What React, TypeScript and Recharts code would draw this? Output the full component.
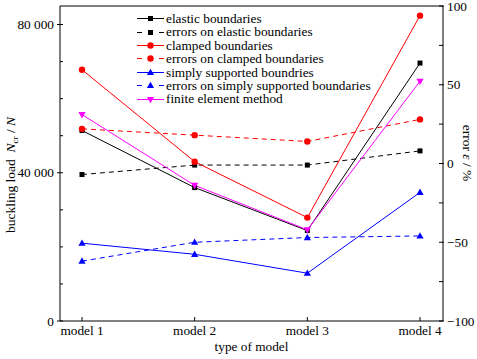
import { LineChart, Line, XAxis, YAxis, Legend } from 'recharts';

// ---- data ----
const MODELS = ['model 1', 'model 2', 'model 3', 'model 4'];

// buckling load N_cr / N (left axis)
const ELASTIC = [51400, 36000, 24400, 69600];
const CLAMPED = [67800, 43000, 27900, 82400];
const SIMPLY = [21000, 18000, 12900, 34700];
const FEM = [55700, 36600, 24600, 64700];

// error in % (right axis)
const ERR_ELASTIC = [-7, -1, -1, 8];
const ERR_CLAMPED = [22, 18, 14, 28];
const ERR_SIMPLY = [-62, -50, -47, -46];

const LOAD_TICKS = [0, 10000, 20000, 30000, 40000, 50000, 60000, 70000, 80000];
const ERR_TICKS = [-100, -75, -50, -25, 0, 25, 50, 75, 100];

const FONT = '"Liberation Serif", "Times New Roman", serif';
const FS = 13.3;

const rows = MODELS.map((model, i) => ({
  model,
  elastic: ELASTIC[i],
  errElastic: ERR_ELASTIC[i],
  clamped: CLAMPED[i],
  errClamped: ERR_CLAMPED[i],
  simply: SIMPLY[i],
  errSimply: ERR_SIMPLY[i],
  fem: FEM[i],
}));

type Shape = 'square' | 'circle' | 'up' | 'down';

// series styling, in legend order (last one is drawn on top)
const SERIES: { key: string; name: string; color: string; dashed: boolean; shape: Shape; axis: string }[] = [
  { key: 'elastic', name: 'elastic boundaries', color: '#000000', dashed: false, shape: 'square', axis: 'load' },
  { key: 'errElastic', name: 'errors on elastic boundaries', color: '#000000', dashed: true, shape: 'square', axis: 'err' },
  { key: 'clamped', name: 'clamped boundaries', color: '#ff0000', dashed: false, shape: 'circle', axis: 'load' },
  { key: 'errClamped', name: 'errors on clamped boundaries', color: '#ff0000', dashed: true, shape: 'circle', axis: 'err' },
  { key: 'simply', name: 'simply supported boundries', color: '#0000ff', dashed: false, shape: 'up', axis: 'load' },
  { key: 'errSimply', name: 'errors on simply supported boundaries', color: '#0000ff', dashed: true, shape: 'up', axis: 'err' },
  { key: 'fem', name: 'finite element method', color: '#ff00ff', dashed: false, shape: 'down', axis: 'load' },
];

function Marker({ cx, cy, shape, color }: { cx: number; cy: number; shape: Shape; color: string }) {
  if (shape === 'square') return <rect x={cx - 2.5} y={cy - 2.5} width={5} height={5} fill={color} />;
  if (shape === 'circle') return <circle cx={cx} cy={cy} r={3.2} fill={color} />;
  if (shape === 'up')
    return <polygon points={`${cx},${cy - 3.8} ${cx - 3.6},${cy + 2.6} ${cx + 3.6},${cy + 2.6}`} fill={color} />;
  return <polygon points={`${cx},${cy + 3.8} ${cx - 3.6},${cy - 2.6} ${cx + 3.6},${cy - 2.6}`} fill={color} />;
}

const makeDot = (shape: Shape, color: string) => (p: any) => (
  <g key={`${p.dataKey}-${p.index}`}>
    <Marker cx={p.cx} cy={p.cy} shape={shape} color={color} />
  </g>
);

const fmtLoad = (v: number) => (v === 0 ? '0' : `${v / 1000} 000`);
const fmtErr = (v: number) => (v < 0 ? `\u2212${-v}` : `${v}`);

// left axis: minor ticks inward, major ticks crossing
function LoadTick({ x, y, payload }: any) {
  const ax = x + 5;
  const major = payload.value % 40000 === 0;
  return (
    <g>
      <line x1={major ? ax - 3 : ax} x2={ax + 3} y1={y} y2={y} stroke="#000" />
      {major && (
        <text x={x - 1} y={y} dy="0.35em" textAnchor="end" fontSize={FS} fill="#000" fontFamily={FONT}>
          {fmtLoad(payload.value)}
        </text>
      )}
    </g>
  );
}

function ErrTick({ x, y, payload }: any) {
  const ax = x - 4;
  const major = payload.value % 50 === 0;
  return (
    <g>
      <line x1={ax - 4} x2={major ? ax + 1 : ax} y1={y} y2={y} stroke="#000" />
      {major && (
        <text x={x} y={y} dy="0.35em" textAnchor="start" fontSize={FS} fill="#000" fontFamily={FONT}>
          {fmtErr(payload.value)}
        </text>
      )}
    </g>
  );
}

function LegendBox() {
  return (
    <div style={{ fontFamily: FONT, fontSize: FS, color: '#000', lineHeight: '13.4px' }}>
      {SERIES.map((s) => (
        <div key={s.key} style={{ display: 'flex', alignItems: 'center', height: 13.4, whiteSpace: 'nowrap' }}>
          <svg width={27} height={13} style={{ marginRight: 2 }}>
            {s.dashed ? (
              <g>
                <line x1={0} x2={5} y1={6.5} y2={6.5} stroke={s.color} />
                <line x1={22} x2={27} y1={6.5} y2={6.5} stroke={s.color} />
              </g>
            ) : (
              <line x1={0} x2={27} y1={6.5} y2={6.5} stroke={s.color} />
            )}
            <Marker cx={13.5} cy={6.5} shape={s.shape} color={s.color} />
          </svg>
          <span>{s.name}</span>
        </div>
      ))}
    </div>
  );
}

export default function App() {
  return (
    <div style={{ position: 'absolute', left: 0, top: 0, width: 477, height: 359, background: '#fff', fontFamily: FONT }}>
      <LineChart width={477} height={359} data={rows} margin={{ top: 5, right: 0, bottom: 0, left: 0 }}>
        <XAxis
          xAxisId="b"
          dataKey="model"
          padding={{ left: 22, right: 23 }}
          height={38}
          tickSize={-4}
          tickMargin={9}
          stroke="#000"
          tick={{ fill: '#000', fontSize: FS, fontFamily: FONT }}
          interval={0}
          label={(p: any) => {
            const vb = p.viewBox;
            return (
              <text x={vb.x + vb.width / 2} y={vb.y + 30} textAnchor="middle" fontSize={FS} fill="#000" fontFamily={FONT}>
                type of model
              </text>
            );
          }}
        />
        <XAxis
          xAxisId="t"
          orientation="top"
          dataKey="model"
          padding={{ left: 22, right: 23 }}
          height={1}
          tick={false}
          tickSize={-4}
          stroke="#000"
          interval={0}
        />
        <YAxis
          yAxisId="load"
          width={60}
          domain={[0, 85000]}
          ticks={LOAD_TICKS}
          interval={0}
          tickLine={false}
          tickSize={0}
          tickMargin={5}
          stroke="#000"
          tick={<LoadTick />}
          label={(p: any) => {
            const cx = 15;
            const cy = 175;
            return (
              <text x={cx} y={cy} transform={`rotate(-90, ${cx}, ${cy})`} textAnchor="middle" fontSize={13.5} fill="#000" fontFamily={FONT}>
                {'buckling load\u00a0\u00a0'}
                <tspan fontStyle="italic">N</tspan>
                <tspan fontSize={9} dy={3}>cr</tspan>
                <tspan dy={-3}>{'\u00a0/\u00a0'}</tspan>
                <tspan fontStyle="italic">N</tspan>
              </text>
            );
          }}
        />
        <YAxis
          yAxisId="err"
          orientation="right"
          width={34}
          domain={[-100, 100]}
          ticks={ERR_TICKS}
          interval={0}
          tickLine={false}
          tickSize={0}
          tickMargin={4}
          stroke="#000"
          tick={<ErrTick />}
          label={(p: any) => {
            const cx = 463;
            const cy = 153;
            return (
              <text x={cx} y={cy} transform={`rotate(90, ${cx}, ${cy})`} textAnchor="middle" fontSize={13.5} fill="#000" fontFamily={FONT}>
                {'error '}
                <tspan fontStyle="italic">ε</tspan>
                {' / %'}
              </text>
            );
          }}
        />
        <Legend
          layout="vertical"
          align="center"
          verticalAlign="middle"
          content={() => <LegendBox />}
          wrapperStyle={{ left: 137, top: 12, width: 'auto', height: 'auto' }}
        />
        {SERIES.map((s) => (
          <Line
            key={s.key}
            xAxisId="b"
            yAxisId={s.axis}
            dataKey={s.key}
            name={s.name}
            type="linear"
            stroke={s.color}
            strokeWidth={1}
            strokeDasharray={s.dashed ? '5 4' : undefined}
            dot={makeDot(s.shape, s.color)}
            activeDot={false}
            isAnimationActive={false}
          />
        ))}
      </LineChart>
    </div>
  );
}
